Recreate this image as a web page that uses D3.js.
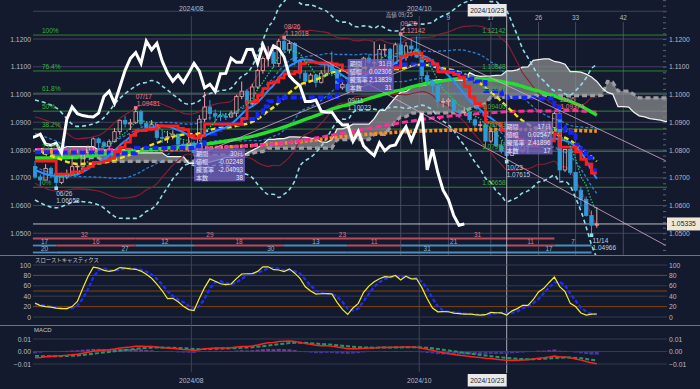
<!DOCTYPE html>
<html lang="ja">
<head>
<meta charset="utf-8">
<title>EUR/USD 日足 一目均衡表・ボリンジャーバンド</title>
<style>
   html,body { margin:0; padding:0; background:#141a2d; }
   svg { display:block; font-family:"Liberation Sans", Arial, sans-serif; }
   .jp { font-family:"Noto Sans CJK JP", sans-serif; }
</style>
<script src="https://d3js.org/d3.v7.min.js"></script>
</head>
<body>
<script>
// daily candles, 2024/06/20 .. 2024/11/15
const dates = [
   '06/20','06/21','06/24','06/25','06/26','06/27','06/28','07/01','07/02','07/03',
   '07/04','07/05','07/08','07/09','07/10','07/11','07/12','07/15','07/16','07/17',
   '07/18','07/19','07/22','07/23','07/24','07/25','07/26','07/29','07/30','07/31',
   '08/01','08/02','08/05','08/06','08/07','08/08','08/09','08/12','08/13','08/14',
   '08/15','08/16','08/19','08/20','08/21','08/22','08/23','08/26','08/27','08/28',
   '08/29','08/30','09/02','09/03','09/04','09/05','09/06','09/09','09/10','09/11',
   '09/12','09/13','09/16','09/17','09/18','09/19','09/20','09/23','09/24','09/25',
   '09/26','09/27','09/30','10/01','10/02','10/03','10/04','10/07','10/08','10/09',
   '10/10','10/11','10/14','10/15','10/16','10/17','10/18','10/21','10/22','10/23',
   '10/24','10/25','10/28','10/29','10/30','10/31','11/01','11/04','11/05','11/06',
   '11/07','11/08','11/11','11/12','11/13','11/14','11/15'];
const opens = [
   1.0741,1.0703,1.0692,1.0733,1.0713,1.0683,1.0703,1.0713,1.0740,1.0742,
   1.0791,1.0810,1.0840,1.0826,1.0814,1.0830,1.0866,1.0907,1.0894,1.0898,
   1.0938,1.0896,1.0881,1.0891,1.0845,1.0844,1.0848,1.0857,1.0821,1.0817,
   1.0825,1.0790,1.0911,1.0955,1.0931,1.0924,1.0921,1.0919,1.0933,1.0993,
   1.1012,1.0968,1.1027,1.1087,1.1130,1.1151,1.1112,1.1192,1.1161,1.1184,
   1.1120,1.1077,1.1048,1.1070,1.1044,1.1077,1.1112,1.1085,1.1024,1.1037,
   1.1011,1.1075,1.1076,1.1131,1.1116,1.1116,1.1162,1.1163,1.1112,1.1179,
   1.1133,1.1175,1.1164,1.1135,1.1068,1.1047,1.1031,1.0975,1.0975,1.0980,
   1.0940,1.0936,1.0937,1.0909,1.0890,1.0891,1.0832,1.0867,1.0815,1.0796,
   1.0780,1.0826,1.0797,1.0814,1.0818,1.0855,1.0884,1.0834,1.0881,1.0932,
   1.0728,1.0802,1.0719,1.0655,1.0622,1.0564,1.0529];
const highs = [
   1.0761,1.0712,1.0749,1.0740,1.0720,1.0718,1.0730,1.0777,1.0747,1.0800,
   1.0816,1.0845,1.0845,1.0833,1.0838,1.0879,1.0910,1.0922,1.0912,1.09481,
   1.0945,1.0903,1.0908,1.0894,1.0869,1.0869,1.0871,1.0858,1.0834,1.0848,
   1.0832,1.0926,1.1009,1.0980,1.0946,1.0941,1.0933,1.0942,1.0999,1.1047,
   1.1020,1.1039,1.1093,1.1137,1.1174,1.1160,1.1200,1.12018,1.1195,1.1189,
   1.1125,1.1087,1.1077,1.1074,1.1088,1.1120,1.1155,1.1092,1.1051,1.1051,
   1.1077,1.1098,1.1136,1.1146,1.1189,1.1180,1.1182,1.1168,1.1187,1.12142,
   1.1189,1.1202,1.1209,1.1144,1.1083,1.1055,1.1042,1.0987,1.0988,1.0984,
   1.0948,1.0955,1.0939,1.0914,1.0905,1.0895,1.0870,1.0871,1.0835,1.0806,
   1.0833,1.0838,1.0830,1.0828,1.0870,1.0889,1.0905,1.0903,1.09374,1.0937,
   1.0805,1.0810,1.0722,1.0668,1.0632,1.0582,1.0594];
const lows = [
   1.0697,1.0671,1.0691,1.0699,1.06658,1.0677,1.0695,1.0711,1.0709,1.0735,
   1.0784,1.0796,1.0792,1.0800,1.0803,1.0827,1.0855,1.0881,1.0872,1.0894,
   1.0886,1.0868,1.0874,1.0836,1.0826,1.0825,1.0838,1.0808,1.0802,1.0795,
   1.0777,1.0780,1.0900,1.0907,1.0901,1.0905,1.0908,1.0916,1.0920,1.0983,
   1.0947,1.0962,1.1020,1.1075,1.1101,1.1095,1.1100,1.1150,1.1148,1.1104,
   1.1057,1.1032,1.1043,1.1026,1.1039,1.1069,1.1066,1.1024,1.1017,1.10023,
   1.1005,1.1060,1.1073,1.1110,1.1087,1.1110,1.1140,1.1083,1.1110,1.1123,
   1.1122,1.1137,1.1132,1.1045,1.1032,1.1006,1.0950,1.0954,1.0956,1.0935,
   1.0915,1.0925,1.0899,1.0880,1.0875,1.0811,1.0826,1.0810,1.0787,1.07615,
   1.0779,1.0793,1.0790,1.0787,1.0812,1.0846,1.0830,1.0831,1.0871,1.0683,
   1.0721,1.0710,1.0650,1.0595,1.0560,1.04966,1.0520];
const closes = [
   1.0703,1.0692,1.0733,1.0713,1.0683,1.0703,1.0713,1.0740,1.0742,1.0791,
   1.0810,1.0840,1.0826,1.0814,1.0830,1.0866,1.0907,1.0894,1.0898,1.0938,
   1.0896,1.0881,1.0891,1.0845,1.0844,1.0848,1.0857,1.0821,1.0817,1.0825,
   1.0790,1.0911,1.0955,1.0931,1.0924,1.0921,1.0919,1.0933,1.0993,1.1012,
   1.0968,1.1027,1.1087,1.1130,1.1151,1.1112,1.1192,1.1161,1.1184,1.1120,
   1.1077,1.1048,1.1070,1.1044,1.1077,1.1112,1.1085,1.1024,1.1037,1.1011,
   1.1075,1.1076,1.1131,1.1116,1.1116,1.1162,1.1163,1.1112,1.1179,1.1133,
   1.1175,1.1164,1.1135,1.1068,1.1047,1.1031,1.0975,1.0975,1.0980,1.0940,
   1.0936,1.0937,1.0909,1.0890,1.0891,1.0832,1.0867,1.0815,1.0796,1.0780,
   1.0826,1.0797,1.0814,1.0818,1.0855,1.0884,1.0834,1.0881,1.0932,1.0728,
   1.0802,1.0719,1.0655,1.0622,1.0564,1.0529,1.0533];
const lastPrice = 1.05335;

// the bars before 06/20 are not in the data: the start of the slower lines is read off the chart
const tenkanEarly = [[0,1.0760]];
const kijunEarly = [[0,1.0792],[4,1.0791],[14,1.0784],[16,1.0788]];
const spanAEarly = [[0,1.0805],[6,1.0812],[12,1.0800],[18,1.0790]];
const spanBEarly = [[0,1.0791],[4,1.0772],[13,1.0759],[31,1.0783]];
const bbEarlyIdx = [0,4,8,12,16];
const bbEarlyMid = [1.0800,1.0772,1.0750,1.0752,1.0770];
const bbEarlySd = [0.0060,0.0060,0.0045,0.0050,0.0072];
const sma10Early = [[0,1.0728],[4,1.0706],[8,1.0712]];
const sma50Early = [[0,1.0771],[8,1.0775],[17,1.0793],[27,1.0811],[35,1.0829],[42,1.0854]];
const sma100Early = [[0,1.0802],[10,1.0800],[20,1.0803],[30,1.0806],[40,1.0815],[47,1.0825],[55,1.0850],[65,1.0885],[75,1.0915],[85,1.0933],[92,1.0940]];
const sma200Read = [[0,1.0795],[20,1.0800],[40,1.0815],[50,1.0830],[60,1.0852],[70,1.0866],[80,1.0872],[90,1.0874],[106,1.0868]];
const slowKEarly = [27,22,20,19,17,16,16,20,30,55,78];
const slowDEarly = [24,23,22,20,18,17,16,17,22,35,54,76,90];
const macdStart = -0.0050;
const signalStart = -0.0035;

// fibonacci retracement 06/26 low -> 09/25 high
const fibLow = 1.06658, fibHigh = 1.12142;
const fibLevels = [1,0.764,0.618,0.5,0.382,0.236,0];
const fibNames = ['100%','76.4%','61.8%','50%','38.2%','23.6%','0%'];

// trend lines [from bar, price, to bar, price]
const trendLines = [[69,1.12142,119,1.0761],[47,1.12018,119,1.0456],[30,1.0777,72,1.1108]];

// cycle counts [from bar, to bar, count]
const cycleHighs = [[-0.4,19,'32'],[19,47,'29'],[47,69,'23'],[69,98,'31']];
const cycleLegs = [[-0.4,4,'17'],[4,19,'16'],[19,30,'12'],[30,47,'18'],[47,59,'13'],[59,69,'11'],[69,89,'21'],[89,98,'11'],[98,105,'7']];
const cycleLows = [[-0.4,4,'20'],[4,30,'27'],[30,59,'30'],[59,89,'31'],[89,105,'17']];

// ichimoku time counts from the 09/25 high
const timeBase = 69;
const timeCounts = [9,17,26,33,42];

// measured moves
const boxLabels = ['期間','値幅','騰落率','本数'];
const boxValues1 = ['31日','0.02306','2.13839','31'];
const boxValues2 = ['30日','-0.02248','-2.04093','38'];
const boxValues3 = ['17日','0.02547','2.41896','17'];

const priceTicks = [1.05,1.06,1.07,1.08,1.09,1.10,1.11,1.12];
const stochTicks = [0,20,40,60,80,100];
const macdTicks = [-0.01,0,0.01];

const n = closes.length;
const x = d3.scaleLinear().domain([0,106]).range([35,596.8]);
const yP = d3.scaleLinear().domain([1.05,1.12]).range([233.25,39]);
const yS = d3.scaleLinear().domain([0,100]).range([317,265]);
const yM = d3.scaleLinear().domain([-0.01,0.01]).range([364,339]);

function fstep(early,i) { let v = early[0][1]; for (let p of early) { if (p[0]<=i) v = p[1]; }; return v; };
function fmid(per,i) {
   let lo = Math.max(0,i-per+1);
   return (d3.max(highs.slice(lo,i+1)) + d3.min(lows.slice(lo,i+1)))/2;
};
function fsma(per,i) { return d3.mean(closes.slice(i-per+1,i+1)); };
function fsd(per,i) { return d3.deviation(closes.slice(i-per+1,i+1))*Math.sqrt((per-1)/per); };
function ftenkan(i) { return i<4 ? fstep(tenkanEarly,i) : fmid(9,i); };
function fkijun(i) { return i<19 ? fstep(kijunEarly,i) : fmid(26,i); };

// indicator series
let tenkan = d3.range(n).map(i => [i,ftenkan(i)]);
let kijun = d3.range(n).map(i => [i,fkijun(i)]);
let cloud = d3.range(0,121).map(j => {
   let s = j-25;
   let a = j<25 ? fstep(spanAEarly,j) : (ftenkan(s)+fkijun(s))/2;
   let b = j<41 ? fstep(spanBEarly,j) : fmid(52,s);
   return [j,a,b];
});
let chikou = d3.range(n).map(i => [i-25,closes[i]]);
let bbMid = bbEarlyIdx.map((i,k) => [i,bbEarlyMid[k]]);
let bbSd = bbEarlyIdx.map((i,k) => bbEarlySd[k]);
for (let i=19;i<n;i++) { bbMid.push([i,fsma(20,i)]); bbSd.push(fsd(20,i)); };
function fband(k) { return bbMid.map((d,j) => [d[0],d[1]+k*bbSd[j]]); };
let sma5 = d3.range(4,n).map(i => [i,fsma(5,i)]);
let sma10 = sma10Early.concat(d3.range(9,n).map(i => [i,fsma(10,i)]));
let sma50 = sma50Early.concat(d3.range(49,n).map(i => [i,fsma(50,i)]));
let sma100 = sma100Early.concat(d3.range(99,n).map(i => [i,fsma(100,i)]));

// slow stochastics 14,3,3
let num = [], den = [], slowK = [], slowD = [];
for (let i=0;i<n;i++) {
   let lo = Math.max(0,i-13);
   let ll = d3.min(lows.slice(lo,i+1)), hh = d3.max(highs.slice(lo,i+1));
   num.push(closes[i]-ll); den.push(hh-ll);
   let a = Math.max(0,i-2);
   slowK.push(i<slowKEarly.length ? slowKEarly[i] : 100*d3.sum(num.slice(a,i+1))/d3.sum(den.slice(a,i+1)));
   slowD.push(i<slowDEarly.length ? slowDEarly[i] : d3.mean(slowK.slice(a,i+1)));
};
// macd 12,26,9
let macd = [], signal = [];
let e12 = closes[0], e26 = closes[0]-macdStart, sig = signalStart;
for (let i=0;i<n;i++) {
   if (i>0) { e12 += (closes[i]-e12)*2/13; e26 += (closes[i]-e26)*2/27; };
   let m = e12-e26;
   if (i>0) { sig += (m-sig)*2/10; };
   macd.push(m); signal.push(sig);
};

const svg = d3.select('body').append('svg').attr('width',700).attr('height',389);
svg.append('rect').attr('width',700).attr('height',389).attr('fill','#141a2d');
const defs = svg.append('defs');
function fclip(id,x0,y0,w,h) { defs.append('clipPath').attr('id',id).append('rect').attr('x',x0).attr('y',y0).attr('width',w).attr('height',h); };
fclip('cmain',33,0,634,255);
fclip('cstoch',33,257,634,67);
fclip('cmacd',33,327,634,45);

function fline(g,pts,ys,color,w,dash,curve=d3.curveMonotoneX) {
   return g.append('path').datum(pts)
      .attr('fill','none').attr('stroke',color).attr('stroke-width',w)
      .attr('stroke-dasharray',dash||null)
      .attr('d',d3.line().x(d => x(d[0])).y(d => ys(d[1])).curve(curve));
};
function ftext(g,tx,ty,str,color,size=6.5,anchor='start',cls=null) {
   return g.append('text').attr('x',tx).attr('y',ty).attr('fill',color).attr('font-size',size)
      .attr('text-anchor',anchor).attr('class',cls).text(str);
};
function fhline(g,ys,v,color,w=0.8,dash=null) {
   g.append('line').attr('x1',33).attr('x2',667).attr('y1',ys(v)).attr('y2',ys(v))
      .attr('stroke',color).attr('stroke-width',w).attr('stroke-dasharray',dash);
};

// panel frames and vertical guides
svg.append('line').attr('x1',0).attr('x2',700).attr('y1',255.5).attr('y2',255.5).attr('stroke','#6d7280');
svg.append('line').attr('x1',0).attr('x2',700).attr('y1',325.5).attr('y2',325.5).attr('stroke','#6d7280');
for (let m of [29.5,72.5]) {
   svg.append('line').attr('x1',x(m)).attr('x2',x(m)).attr('y1',16).attr('y2',372).attr('stroke','#474c5e').attr('stroke-width',0.8);
};
for (let c of [0].concat(timeCounts)) {
   svg.append('line').attr('x1',x(timeBase+c)).attr('x2',x(timeBase+c)).attr('y1',22).attr('y2',255)
      .attr('stroke','#5b6070').attr('stroke-width',0.7);
};

// axes
const axisColor = '#b5b9c6';
function faxis(axis,tx,vals,fmt,ys) {
   let g = svg.append('g').attr('transform','translate('+tx+',0)')
      .call(axis(ys).tickValues(vals).tickFormat(fmt).tickSize(0).tickPadding(1));
   g.select('.domain').remove();
   g.selectAll('text').attr('fill',axisColor).attr('font-size',6.8).attr('font-family','Liberation Sans');
};
faxis(d3.axisLeft,32,priceTicks,d3.format('.4f'),yP);
faxis(d3.axisRight,668,priceTicks,d3.format('.4f'),yP);
faxis(d3.axisLeft,32,stochTicks,d3.format('d'),yS);
faxis(d3.axisRight,668,stochTicks,d3.format('d'),yS);
faxis(d3.axisLeft,32,macdTicks,d3.format('.2f'),yM);
faxis(d3.axisRight,668,macdTicks,d3.format('.2f'),yM);
let minor = svg.append('g').attr('transform','translate(663,0)')
   .call(d3.axisRight(yP).tickValues(d3.range(1.044,1.1341,0.002)).tickFormat('').tickSize(3));
minor.select('.domain').remove();
minor.selectAll('line').attr('stroke','#5d6272');

// ---- main price panel ----
const gM = svg.append('g').attr('clip-path','url(#cmain)');
for (let v of d3.range(1.04,1.135,0.01)) { fhline(gM,yP,v,'#4b4d68',0.8); };
fibLevels.forEach((f,k) => { fhline(gM,yP,fibLow+f*(fibHigh-fibLow),'#2f8f35',0.9); });

// kumo
gM.append('path').datum(cloud).attr('fill','#8e8e92').attr('fill-opacity',0.72)
   .attr('d',d3.area().x(d => x(d[0])).y0(d => yP(d[1])).y1(d => yP(d[2])));
fline(gM,cloud.map(d => [d[0],d[2]]),yP,'#9d9da2',3.2,'5,3',d3.curveLinear);
fline(gM,cloud.map(d => [d[0],d[1]]),yP,'#f2f2f2',1.3,null,d3.curveLinear);

// bollinger bands 20
fline(gM,fband(3),yP,'#93dde6',1.6,'4,3');
fline(gM,fband(-3),yP,'#93dde6',1.6,'4,3');
fline(gM,fband(2),yP,'#8c1f33',1.1);
fline(gM,fband(-2),yP,'#8c1f33',1.1);
fline(gM,fband(1),yP,'#2a7fd6',1.3,'3,2');
fline(gM,fband(-1),yP,'#2a7fd6',1.3,'3,2');

// long moving averages
fline(gM,sma200Read,yP,'#ff8c1a',3.5,'3,2');
fline(gM,sma100,yP,'#ff2d95',3,'6,3');
fline(gM,sma50,yP,'#24e02a',3.4);

// current price
fhline(gM,yP,lastPrice,'#cfcfcf',0.9);

// candles
const upCol = '#eaa5a5', dnCol = '#2f9bd8';
const candles = gM.append('g').selectAll('g').data(d3.range(n)).join('g');
candles.each(function(i) {
   let g = d3.select(this);
   let up = closes[i]>=opens[i];
   let col = up ? upCol : dnCol;
   let top = yP(Math.max(opens[i],closes[i])), bot = yP(Math.min(opens[i],closes[i]));
   g.append('line').attr('x1',x(i)).attr('x2',x(i)).attr('y1',yP(highs[i])).attr('y2',top).attr('stroke',col);
   g.append('line').attr('x1',x(i)).attr('x2',x(i)).attr('y1',bot).attr('y2',yP(lows[i])).attr('stroke',col);
   g.append('rect').attr('x',x(i)-1.7).attr('y',top).attr('width',3.4).attr('height',Math.max(0.8,bot-top))
      .attr('fill',up ? 'none' : dnCol).attr('stroke',col).attr('stroke-width',0.8);
});

// short lines
fline(gM,bbMid,yP,'#f7e600',2.4,'5,3');
fline(gM,kijun,yP,'#1426ff',4,'6,3',d3.curveStepAfter);
fline(gM,sma10,yP,'#2690ff',2);
fline(gM,tenkan,yP,'#ff1c1c',2.8,null,d3.curveStepAfter);
fline(gM,sma5,yP,'#27c97a',1.2,'1.5,1.5');
for (let t of trendLines) {
   gM.append('line').attr('x1',x(t[0])).attr('y1',yP(t[1])).attr('x2',x(t[2])).attr('y2',yP(t[3]))
      .attr('stroke','#d7a9cf').attr('stroke-width',0.8);
};
fline(gM,chikou,yP,'#ffffff',3,null,d3.curveLinear);

// fibonacci labels
fibLevels.forEach((f,k) => {
   let v = fibLow+f*(fibHigh-fibLow);
   ftext(gM,42,yP(v)-2,fibNames[k],'#3cb043');
   ftext(gM,x(88.8),yP(v)-2,d3.format('.5f')(v),'#3cb043',6.5,'end');
});

// high / low markers
function fmark(i,v,col,dy) {
   gM.append('rect').attr('x',x(i)-1.8).attr('y',yP(v)+dy-1.8).attr('width',3.6).attr('height',3.6).attr('fill',col);
};
const hiCol = '#e77f86', loCol = '#b9d3e0';
fmark(19,highs[19],hiCol,-1); fmark(47,highs[47],hiCol,-1); fmark(69,highs[69],hiCol,-1);
fmark(4,lows[4],'#8fe0ee',1); fmark(89,lows[89],'#8fe0ee',1); fmark(105,lows[105],'#8fe0ee',1);
function fhilab(i,v,col,dx) {
   ftext(gM,x(i)+dx,yP(v)-9.5,dates[i],col);
   ftext(gM,x(i)+dx+1,yP(v)-2.5,d3.format('.5f')(v),col);
};
function flolab(i,v,col,dx) {
   ftext(gM,x(i)+dx,yP(v)+9,dates[i],col);
   ftext(gM,x(i)+dx,yP(v)+16,d3.format('.5f')(v),col);
};
fhilab(19,highs[19],hiCol,0);
fhilab(47,highs[47],hiCol,0);
fhilab(69,highs[69],hiCol,0);
fhilab(98,highs[98],hiCol,5);
ftext(gM,x(69)-15,17,'高値 '+dates[69],'#b5b9c6',5.6,'start','jp');
flolab(4,lows[4],loCol,0);
flolab(59,lows[59],loCol,0);
flolab(89,lows[89],loCol,0);
flolab(105,lows[105],loCol,1);

// measured move boxes
function fbox(i,v,w,vals) {
   let bx = x(i), by = yP(v);
   gM.append('rect').attr('x',bx).attr('y',by).attr('width',w).attr('height',33).attr('fill','#7565c2').attr('fill-opacity',0.78);
   boxLabels.forEach((l,k) => {
      ftext(gM,bx+2,by+7.5+k*8,l,'#e6e4f4',6,'start','jp');
      ftext(gM,bx+w-2,by+7.5+k*8,vals[k],'#e6e4f4',6.3,'end');
   });
};
fbox(59,1.1128,46,boxValues1);
fbox(30,1.0806,51,boxValues2);
fbox(88.6,1.0903,48,boxValues3);

// cycle count rows
function fcycle(rows,ry,colfn) {
   rows.forEach((r,k) => {
      let col = colfn(k);
      svg.append('line').attr('x1',x(r[0])).attr('x2',x(r[1])).attr('y1',ry).attr('y2',ry).attr('stroke',col[0]).attr('stroke-width',1.8);
      ftext(svg,(x(r[0])+x(r[1]))/2,ry-1.8,r[2],col[1],6.5,'middle');
   });
};
const redRow = ['#b84a5c','#dc7784'], blueRow = ['#4b8db5','#86b9d6'];
fcycle(cycleHighs,238.5,k => redRow);
fcycle(cycleLegs,245.5,k => k%2===0 ? blueRow : redRow);
fcycle(cycleLows,252.5,k => blueRow);

// time labels
for (let c of timeCounts) { ftext(svg,x(timeBase+c),20,String(c),'#b5b9c6',6.5,'middle'); };
ftext(svg,x(29.5),10.5,'2024/08','#b5b9c6',6.8,'middle');
ftext(svg,x(72.5),10.5,'2024/10','#b5b9c6',6.8,'middle');
ftext(svg,x(29.5),383,'2024/08','#b5b9c6',6.8,'middle');
ftext(svg,x(72.5),383,'2024/10','#b5b9c6',6.8,'middle');
svg.append('line').attr('x1',x(89)).attr('x2',x(89)).attr('y1',16).attr('y2',373).attr('stroke','#c9ccd4').attr('stroke-width',0.8);
for (let ty of [4,374]) {
   svg.append('rect').attr('x',x(89)-39).attr('y',ty).attr('width',39).attr('height',12.5).attr('fill','#e9e9ec');
   ftext(svg,x(89)-19.5,ty+9,'2024/'+dates[89],'#222',6.8,'middle');
};
svg.append('rect').attr('x',667).attr('y',yP(lastPrice)-6.5).attr('width',33).attr('height',13).attr('fill','#efe6d6');
ftext(svg,683.5,yP(lastPrice)+2.4,d3.format('.5f')(lastPrice),'#222',6.8,'middle');

// ---- slow stochastics ----
const gS = svg.append('g').attr('clip-path','url(#cstoch)');
for (let v of [100,60,40,0]) { fhline(gS,yS,v,'#3e4458',0.8); };
for (let v of [80,50,20]) { fhline(gS,yS,v,'#8a4a12',0.9); };
fline(gS,slowD.map((v,i) => [i,v]),yS,'#1f2cff',2.2,'4,2',d3.curveLinear);
fline(gS,slowK.map((v,i) => [i,v]),yS,'#f4ee2a',1.2,null,d3.curveLinear);
ftext(svg,35,262,'スローストキャスティクス','#c3c6cf',5.4,'start','jp');

// ---- macd ----
const gD = svg.append('g').attr('clip-path','url(#cmacd)');
for (let v of macdTicks) { fhline(gD,yM,v,'#3e4458',0.8); };
gD.append('g').selectAll('rect').data(d3.range(n)).join('rect')
   .attr('x',i => x(i)-2).attr('width',4)
   .attr('y',i => Math.min(yM(0),yM(macd[i]-signal[i])))
   .attr('height',i => Math.abs(yM(macd[i]-signal[i])-yM(0)))
   .attr('fill',i => macd[i]-signal[i]>=0 ? '#6e3f93' : '#44389a');
fline(gD,signal.map((v,i) => [i,v]),yM,'#1f9a63',2,'4,2',d3.curveLinear);
fline(gD,macd.map((v,i) => [i,v]),yM,'#ff2121',1.5,null,d3.curveLinear);
ftext(svg,34,332,'MACD','#c3c6cf',6);
</script>
</body>
</html>
